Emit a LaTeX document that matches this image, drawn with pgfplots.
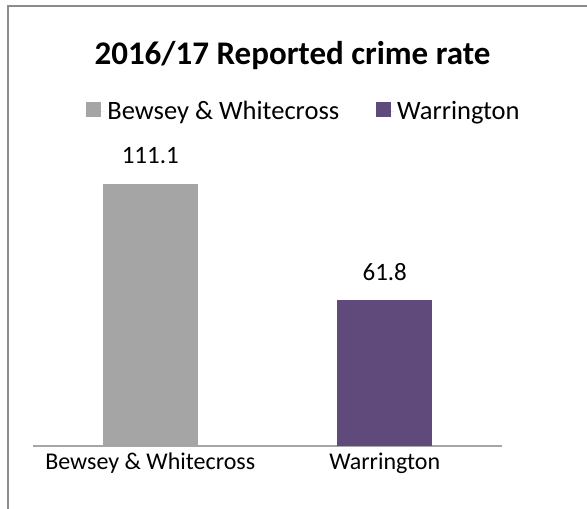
\documentclass[border=0pt]{standalone}
\usepackage{pgfplots}
\pgfplotsset{compat=1.18}
\usepackage{fontspec}
\setmainfont{Carlito}
\definecolor{bargray}{HTML}{A5A5A5}
\definecolor{barpurple}{HTML}{604A7B}
\definecolor{framegray}{HTML}{8C8C8C}
\definecolor{axisgray}{HTML}{A6A6A6}
\newcommand{\lbl}{\fontsize{25}{30}\selectfont}
\newcommand{\cat}{\fontsize{24}{29}\selectfont}
\newcommand{\leg}{\fontsize{26.5}{31}\selectfont}
\begin{document}
\begin{tikzpicture}
\useasboundingbox (0,0) rectangle (587pt,509pt);
\draw[framegray, line width=2pt] (7.5pt,0pt) -- (7.5pt,502.5pt) -- (587pt,502.5pt);
\node[anchor=base, inner sep=0pt, font=\fontsize{33}{40}\selectfont\bfseries] at (292.5pt,444pt) {2016/17 Reported crime rate};
\begin{axis}[
  at={(33pt,63pt)}, anchor=south west,
  scale only axis, width=469pt, height=283pt,
  xmin=-0.5, xmax=1.5, ymin=0, ymax=120,
  axis x line=bottom, axis y line=none,
  axis line style={axisgray, line width=1.5pt, -},
  xtick={0,1}, xticklabels={Bewsey \& Whitecross, Warrington},
  major tick length=0pt,
  xticklabel style={font=\cat, anchor=base, inner sep=0pt, yshift=-24pt},
  ytick=\empty,
  ybar, bar width=95pt, bar shift=0pt,
  /pgf/number format/assume math mode=true,
  nodes near coords={\pgfmathprintnumber[fixed,fixed zerofill,precision=1]{\pgfplotspointmeta}},
  every node near coord/.append style={font=\lbl, anchor=base, inner sep=0pt, yshift=20pt, black},
  legend columns=2,
  legend style={draw=none, fill=none, at={(0.579,1.182)}, anchor=center, font=\leg,
    /tikz/every even column/.append style={column sep=34pt},
    inner sep=0pt, row sep=0pt, nodes={inner sep=3pt}},
  legend image code/.code={\fill[#1] (0pt,-6pt) rectangle (15pt,9pt); \path (0pt,0pt) -- (18pt,0pt);},
  clip=false,
]
\addplot[fill=bargray, draw=none] coordinates {(0,111.1)};
\addlegendentry{Bewsey \& Whitecross}
\addplot[fill=barpurple, draw=none] coordinates {(1,61.8)};
\addlegendentry{Warrington}
\end{axis}
\end{tikzpicture}
\end{document}
